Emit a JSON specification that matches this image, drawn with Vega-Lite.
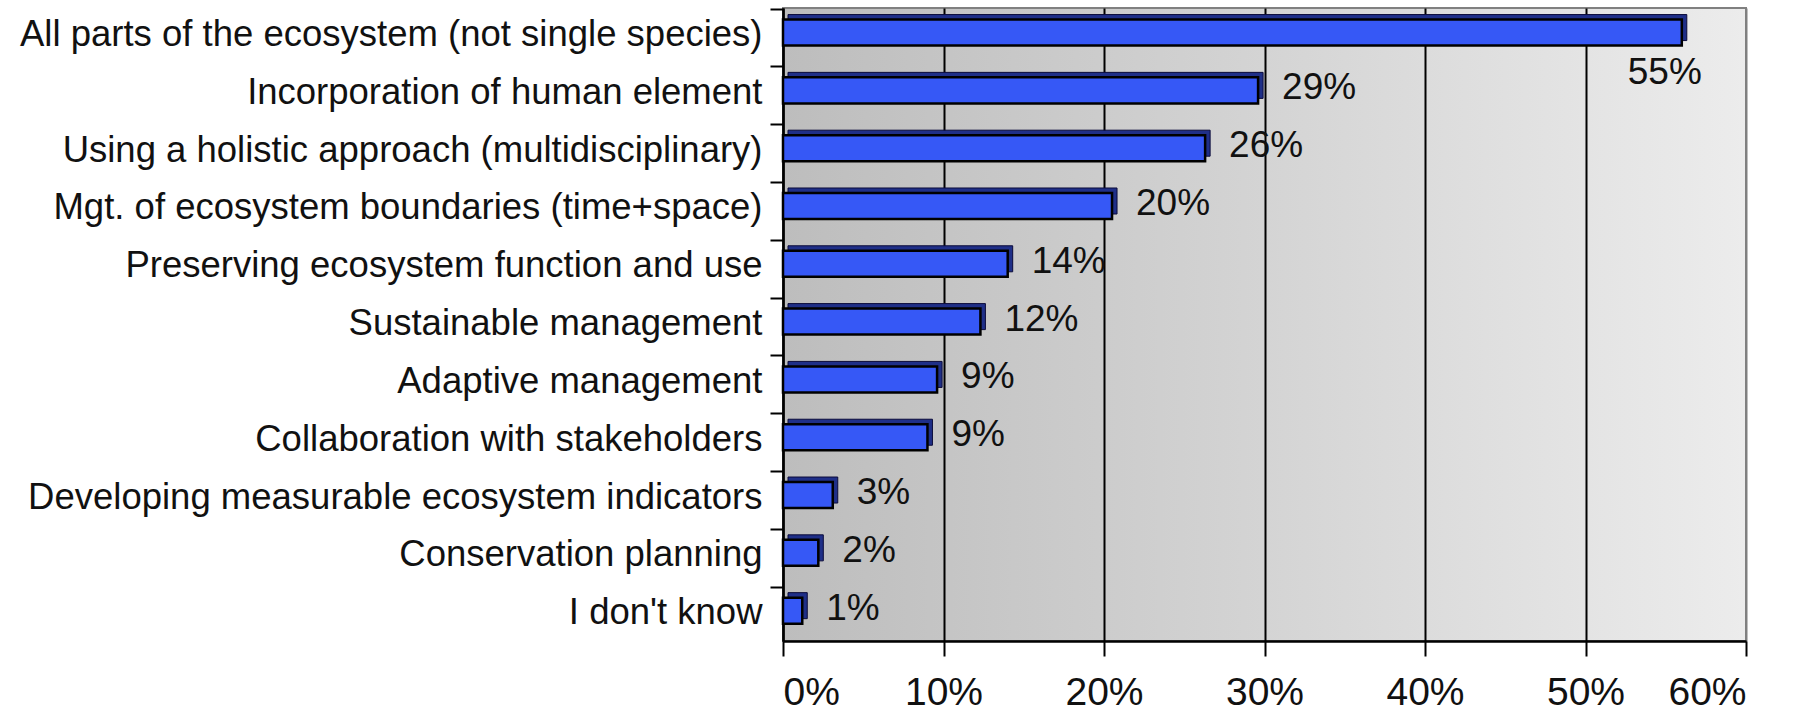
{
  "$schema": "https://vega.github.io/schema/vega-lite/v6.json",
  "width": 963,
  "height": 633,
  "autosize": {"type": "none"},
  "padding": {"left": 783, "top": 8, "right": 58, "bottom": 66},
  "background": "white",
  "config": {
    "font": "Liberation Sans",
    "view": {
      "stroke": "#808080",
      "strokeWidth": 2,
      "fill": {"gradient": "linear", "x1": 0, "y1": 0, "x2": 1, "y2": 0,
        "stops": [
          {"offset": 0, "color": "#bdbdbd"},
          {"offset": 0.5, "color": "#d4d4d4"},
          {"offset": 1, "color": "#ececec"}
        ]}
    }
  },
  "data": {
    "values": [
      {"category": "All parts of the ecosystem (not single species)", "pct": 56.0, "label": "55%"},
      {"category": "Incorporation of human element", "pct": 29.6, "label": "29%"},
      {"category": "Using a holistic approach (multidisciplinary)", "pct": 26.3, "label": "26%"},
      {"category": "Mgt. of ecosystem boundaries (time+space)", "pct": 20.5, "label": "20%"},
      {"category": "Preserving ecosystem function and use", "pct": 14.0, "label": "14%"},
      {"category": "Sustainable management", "pct": 12.3, "label": "12%"},
      {"category": "Adaptive management", "pct": 9.6, "label": "9%"},
      {"category": "Collaboration with stakeholders", "pct": 9.0, "label": "9%"},
      {"category": "Developing measurable ecosystem indicators", "pct": 3.1, "label": "3%"},
      {"category": "Conservation planning", "pct": 2.2, "label": "2%"},
      {"category": "I don't know", "pct": 1.2, "label": "1%"}
    ]
  },
  "encoding": {
    "y": {
      "field": "category",
      "type": "nominal",
      "sort": null,
      "title": null,
      "scale": {"paddingInner": 0.55, "paddingOuter": 0.25, "align": 0.4},
      "axis": {
        "domainColor": "black",
        "domainWidth": 2.5,
        "tickColor": "black",
        "tickWidth": 2,
        "tickSize": 13,
        "tickOffset": -24,
        "labelFontSize": 36.5,
        "labelColor": "#111111",
        "labelPadding": 8,
        "labelLimit": 0,
        "labelOffset": 26,
        "labelFont": "Liberation Sans"
      }
    },
    "x": {
      "field": "pct",
      "type": "quantitative",
      "title": null,
      "scale": {"domain": [0, 60], "nice": false},
      "axis": {
        "values": [0, 10, 20, 30, 40, 50, 60],
        "labelExpr": "datum.value + '%'",
        "domainColor": "black",
        "domainWidth": 2.5,
        "tickColor": "black",
        "tickWidth": 2,
        "tickSize": 15,
        "labelFontSize": 39,
        "labelColor": "#111111",
        "labelPadding": 17,
        "labelFont": "Liberation Sans",
        "grid": true,
        "gridWidth": 2,
        "gridColor": {"condition": {"test": "datum.value === 60", "value": "#808080"}, "value": "black"},
        "gridOpacity": 1
      }
    }
  },
  "layer": [
    {
      "mark": {"type": "bar", "color": "#1f2f88", "stroke": "#0b0b3a", "strokeWidth": 1, "xOffset": 5, "yOffset": -5, "opacity": 1}
    },
    {
      "mark": {"type": "bar", "color": "#3658f6", "stroke": "black", "strokeWidth": 2.5, "opacity": 1}
    },
    {
      "transform": [{"filter": "datum.pct < 50"}],
      "mark": {"type": "text", "align": "left", "baseline": "middle", "dx": 24, "dy": -2, "fontSize": 37, "color": "#111111", "font": "Liberation Sans"},
      "encoding": {"text": {"field": "label"}}
    },
    {
      "transform": [{"filter": "datum.pct >= 50"}],
      "mark": {"type": "text", "align": "center", "baseline": "middle", "dx": -17, "dy": 40, "fontSize": 37, "color": "#111111", "font": "Liberation Sans"},
      "encoding": {"text": {"field": "label"}}
    }
  ]
}
